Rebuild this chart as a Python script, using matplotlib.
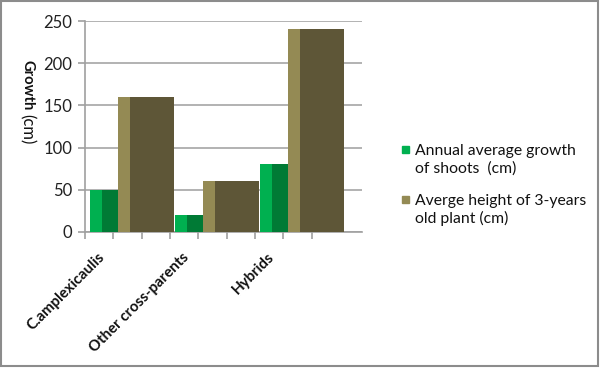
import matplotlib
matplotlib.use("Agg")
import matplotlib.pyplot as plt
from matplotlib.patches import Rectangle

plt.rcParams['font.family'] = ['Lato', 'DejaVu Sans']

categories = ['C.amplexicaulis', 'Other cross-parents', 'Hybrids']
shoot_growth = [50, 20, 80]
plant_height = [160, 60, 240]
series_labels = ['Annual average growth\nof shoots  (cm)',
                 'Averge height of 3-years\nold plant (cm)']
yticks = [0, 50, 100, 150, 200, 250]

W, H = 600, 368
fig = plt.figure(figsize=(W / 100, H / 100), dpi=100)


def fx(px):
    return px / W


def fy(py):
    return 1 - py / H


ax = fig.add_axes([fx(85), fy(232), fx(362 - 85), (232 - 21) / H])

green_light, green_dark = '#00b050', '#007a35'
olive_light, olive_dark = '#948a54', '#5e5637'

for i in range(len(categories)):
    # each column: lighter side strip then darker face
    ax.bar(i + 0.059, shoot_growth[i], width=0.141, align='edge',
           color=green_light, zorder=3)
    ax.bar(i + 0.2, shoot_growth[i], width=0.188, align='edge',
           color=green_dark, zorder=3)
    ax.bar(i + 0.388, plant_height[i], width=0.145, align='edge',
           color=olive_light, zorder=3)
    ax.bar(i + 0.533, plant_height[i], width=0.514, align='edge',
           color=olive_dark, zorder=3)

ax.set_xlim(0, 3.259)
ax.set_ylim(0, 250)
ax.set_yticks(yticks)
ax.set_xticks([k / 3 for k in range(9)])
ax.set_xticklabels([])
ax.yaxis.grid(True, color='#a6a6a6', lw=1.2)
ax.set_axisbelow(True)
for s in ['top', 'right']:
    ax.spines[s].set_visible(False)
for s in ['left', 'bottom']:
    ax.spines[s].set_color('#a0a0a0')
    ax.spines[s].set_linewidth(1.2)
ax.tick_params(axis='both', color='#a0a0a0', length=5, width=1.2)
ax.tick_params(axis='y', labelsize=12, colors='#a0a0a0', labelcolor='#222222', pad=4)

for i, name in enumerate(categories):
    ax.text(i + 0.2, -0.11, name, transform=ax.get_xaxis_transform(),
            rotation=45, rotation_mode='anchor', ha='right', va='center',
            fontsize=10.8, fontweight='bold', color='#111111')

# y label: bold word, then a plain unit
fig.text(fx(27), fy(60), 'Growth', rotation=270, ha='center', va='top',
         fontsize=10.6, fontweight='bold', color='#111111')
fig.text(fx(27), fy(114), '(cm)', rotation=270, ha='center', va='top',
         fontsize=12, color='#111111')

# legend
for k, (lab, col) in enumerate(zip(series_labels, [green_light, olive_light])):
    top = 146 + 50 * k
    fig.patches.append(Rectangle((fx(402), fy(top + 7)), fx(7), 7 / H,
                                 transform=fig.transFigure, color=col))
    line1, line2 = lab.split('\n')
    fig.text(fx(415), fy(155 + 50 * k), line1, fontsize=11.3,
             va='baseline', color='#111111')
    fig.text(fx(415), fy(173 + 50 * k), line2, fontsize=11.3,
             va='baseline', color='#111111')

fig.patches.append(Rectangle((fx(1), fy(366)), fx(597), 365 / H,
                             transform=fig.transFigure, fill=False,
                             edgecolor='#8c8c8c', lw=1.5))

fig.savefig('out.png', dpi=100)
